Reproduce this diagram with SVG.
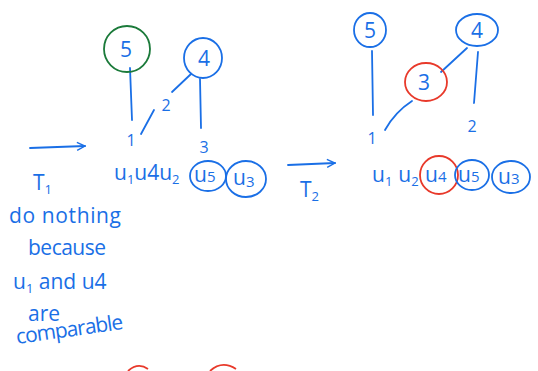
<svg xmlns="http://www.w3.org/2000/svg" width="538" height="371" viewBox="0 0 538 371">
<style>
.b{stroke:#1a6fe6;fill:none;stroke-width:1.8;stroke-linecap:round}
.g{stroke:#1b7a3a;fill:none;stroke-width:1.8}
.r{stroke:#e8392a;fill:none;stroke-width:1.8}
text{font-family:"Open Sans","Liberation Sans",sans-serif;fill:#1a6fe6}
.n{font-size:21px;text-anchor:middle}
.l{font-size:16px;text-anchor:middle}
.u{font-size:21px}
.t{font-size:21px}
</style>
<defs>
<marker id="ah" viewBox="0 0 10 10" refX="9" refY="5" markerWidth="10" markerHeight="10" orient="auto" markerUnits="userSpaceOnUse">
<path d="M1 1 L9 5 L1 9" fill="none" stroke="#1a6fe6" stroke-width="1.4"/>
</marker>
</defs>
<g id="connectors">
<path class="b" d="M130 68 L132 120"/>
<path class="b" d="M200 79 L201 128"/>
<path class="b" d="M191 74 L172 92"/>
<path class="b" d="M154 110 L141 134"/>
<path class="b" d="M30 148 L85 146" marker-end="url(#ah)"/>
<path class="b" d="M372 51 L373 115"/>
<path class="b" d="M478 52 L474 103"/>
<path class="b" d="M467 48 L441 72"/>
<path class="b" d="M412 101 Q395 112 385 130"/>
<path class="b" d="M288 165 L335 163" marker-end="url(#ah)"/>
</g>
<g id="left5"><ellipse class="g" cx="127" cy="49" rx="23" ry="23"/><text class="n" x="126" y="57">5</text></g>
<g id="left4"><ellipse class="b" cx="203" cy="58" rx="19" ry="20"/><text class="n" x="204" y="66">4</text></g>
<g id="left-labels">
<text class="l" x="166" y="111">2</text>
<text class="l" x="131" y="146">1</text>
<text class="l" x="204" y="153">3</text>
</g>
<g id="left-seq">
<text class="u" x="114" y="180">u<tspan font-size="13" dy="4">1</tspan><tspan dy="-4">u4u</tspan><tspan font-size="13" dy="4">2</tspan></text>
<ellipse class="b" cx="208" cy="176" rx="18" ry="15"/><text class="u" x="194" y="182">u<tspan font-size="15">5</tspan></text>
<ellipse class="b" cx="246" cy="179" rx="20" ry="18"/><text class="u" x="233" y="185">u<tspan font-size="15" dy="2">3</tspan></text>
</g>
<g id="T1"><text class="t" x="33" y="190">T<tspan font-size="13" dy="4">1</tspan></text></g>
<g id="right5"><ellipse class="b" cx="370" cy="30" rx="16" ry="17"/><text class="n" x="370" y="38">5</text></g>
<g id="right4"><ellipse class="b" cx="477" cy="30" rx="21" ry="16"/><text class="n" x="477" y="38">4</text></g>
<g id="right3"><ellipse class="r" cx="426" cy="82" rx="21" ry="19"/><text class="n" x="424" y="90">3</text></g>
<g id="right-labels">
<text class="l" x="372" y="144">1</text>
<text class="l" x="472" y="132">2</text>
</g>
<g id="right-seq">
<text class="u" x="372" y="182">u<tspan font-size="13" dy="4">1</tspan><tspan dx="6" dy="-4">u</tspan><tspan font-size="13" dy="4">2</tspan></text>
<ellipse class="r" cx="439" cy="175" rx="19" ry="19"/><text class="u" x="425" y="182">u<tspan font-size="15">4</tspan></text>
<ellipse class="b" cx="472" cy="175" rx="17" ry="15"/><text class="u" x="458" y="182">u<tspan font-size="15">5</tspan></text>
<ellipse class="b" cx="511" cy="177" rx="19" ry="16"/><text class="u" x="498" y="184">u<tspan font-size="15">3</tspan></text>
</g>
<g id="T2"><text class="t" x="300" y="197">T<tspan font-size="13" dy="4">2</tspan></text></g>
<g id="note">
<text class="t" x="9" y="223" textLength="112">do nothing</text>
<text class="t" x="28" y="255" textLength="78">because</text>
<text class="t" x="13" y="289">u<tspan font-size="13" dy="4">1</tspan><tspan dy="-4"> and u4</tspan></text>
<text class="t" x="28" y="321">are</text>
<text class="t" x="17" y="344" transform="rotate(-8 17 344)" textLength="108">comparable</text>
</g>
<g id="bottom-arcs">
<path class="r" d="M128 371 Q138 362 148 369"/>
<path class="r" d="M210 371 Q222 360 236 369"/>
</g>
</svg>
